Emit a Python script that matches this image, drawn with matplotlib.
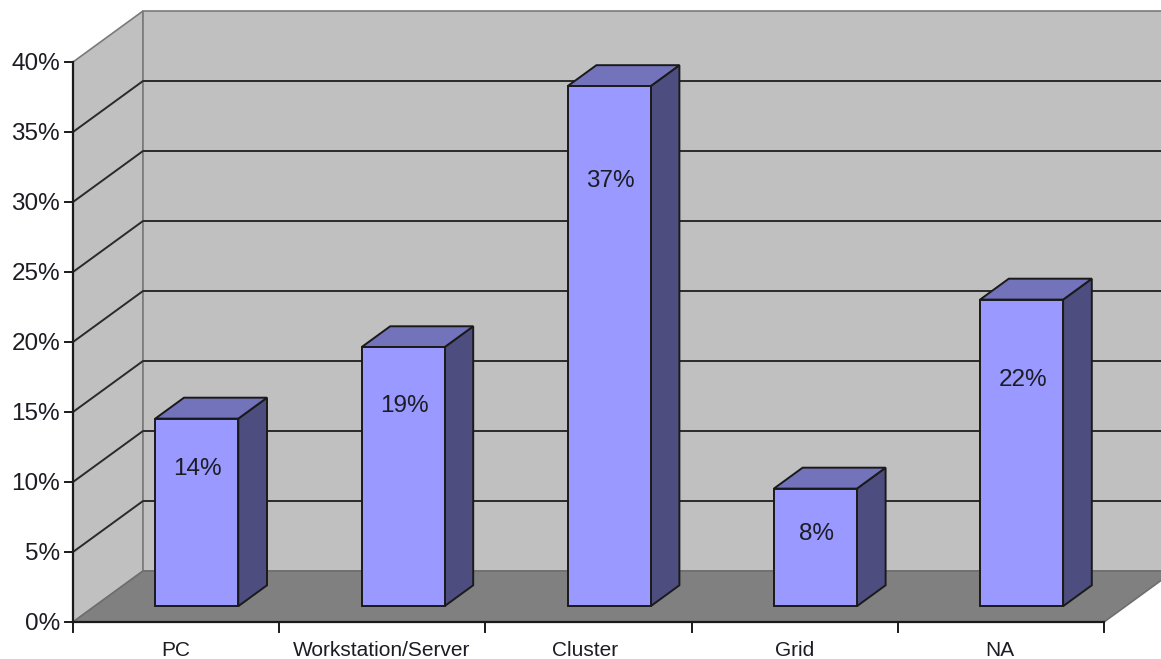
import matplotlib
matplotlib.use("Agg")
import matplotlib.pyplot as plt
from matplotlib.patches import Polygon

categories = ["PC", "Workstation/Server", "Cluster", "Grid", "NA"]
heights = [13.4, 18.5, 37.15, 8.4, 21.9]
bar_labels = ["14%", "19%", "37%", "8%", "22%"]
y_ticks = [0, 5, 10, 15, 20, 25, 30, 35, 40]

# label distance below the bar top, in px
label_drop = [50, 59, 95, 45, 80]
# the category labels are not quite centred in the original, in px
cat_nudge = [0, -1, -3, 0, -1]

# one category is 206 px wide, 1% is 14 px tall
cat_px = 206.2
pct_px = 14.0
wall_dx = 70 / cat_px
wall_dy = 51 / pct_px
bar_w = 83 / cat_px
bar_start = 0.31
bar_depth = 0.41
bar_shift = -1 / cat_px
line_col = "#1a1a1a"
wall_edge = "#7a7a7a"
text_col = "#1c1c24"

plt.rcParams["font.family"] = ["Liberation Sans", "DejaVu Sans"]

fig = plt.figure(figsize=(11.61, 6.59), dpi=100)
ax = fig.add_axes([0, 0, 1, 1])
ax.set_xlim(-73 / cat_px, (1161 - 73) / cat_px)
ax.set_ylim((622 - 659) / pct_px, 622 / pct_px)
ax.axis("off")

n = len(categories)
top = y_ticks[-1]


def poly(pts, color, z=1, lw=1.4, edge=line_col):
  ax.add_patch(Polygon(pts, closed=True, facecolor=color, edgecolor=edge, linewidth=lw, zorder=z))


# walls and floor
poly([(0, 0), (wall_dx, wall_dy), (wall_dx, top + wall_dy), (0, top)], "#c0c0c0", lw=1.2, edge=wall_edge)
poly([(wall_dx, wall_dy), (n + wall_dx, wall_dy), (n + wall_dx, top + wall_dy), (wall_dx, top + wall_dy)], "#c0c0c0", lw=1.2, edge=wall_edge)
poly([(0, 0), (n, 0), (n + wall_dx, wall_dy), (wall_dx, wall_dy)], "#808080", z=2, lw=1.2, edge="#6e6e6e")

# gridlines, the top one is just the wall edge
for v in y_ticks[1:-1]:
  ax.plot([0, wall_dx, n + wall_dx], [v, v + wall_dy, v + wall_dy], color="#2a2a2a", lw=1.4, zorder=1.5)

# bars
for i, h in enumerate(heights):
  x0 = i + 0.5 - bar_w / 2 + bar_start * wall_dx + bar_shift
  x1 = x0 + bar_w
  y0 = bar_start * wall_dy
  ddx = bar_depth * wall_dx
  ddy = bar_depth * wall_dy
  poly([(x1, y0), (x1 + ddx, y0 + ddy), (x1 + ddx, y0 + ddy + h), (x1, y0 + h)], "#4d4d80", z=3)
  poly([(x0, y0 + h), (x1, y0 + h), (x1 + ddx, y0 + h + ddy), (x0 + ddx, y0 + h + ddy)], "#7373bb", z=3)
  poly([(x0, y0), (x1, y0), (x1, y0 + h), (x0, y0 + h)], "#9999ff", z=4)
  ax.text((x0 + x1) / 2 + 1 / cat_px, y0 + h - label_drop[i] / pct_px, bar_labels[i], ha="center", va="center",
          fontsize=17.5, color=text_col, zorder=5)

# axis lines, ticks and tick labels
ax.plot([0, 0], [0, top], color=line_col, lw=1.6, zorder=6, clip_on=False)
ax.plot([0, n], [0, 0], color=line_col, lw=1.6, zorder=6)
for v in y_ticks:
  ax.plot([-8 / cat_px, 0], [v, v], color=line_col, lw=1.4, zorder=6)
  ax.text(-13 / cat_px, v - 1.5 / pct_px, f"{v}%", ha="right", va="center", fontsize=17.5, color=text_col)
for i in range(n + 1):
  ax.plot([i, i], [0, -10 / pct_px], color=line_col, lw=1.4, zorder=6)
for i, c in enumerate(categories):
  ax.text(i + 0.5 + cat_nudge[i] / cat_px, -28 / pct_px, c, ha="center", va="center", fontsize=15, color=text_col)

fig.savefig("out.png", dpi=100)
